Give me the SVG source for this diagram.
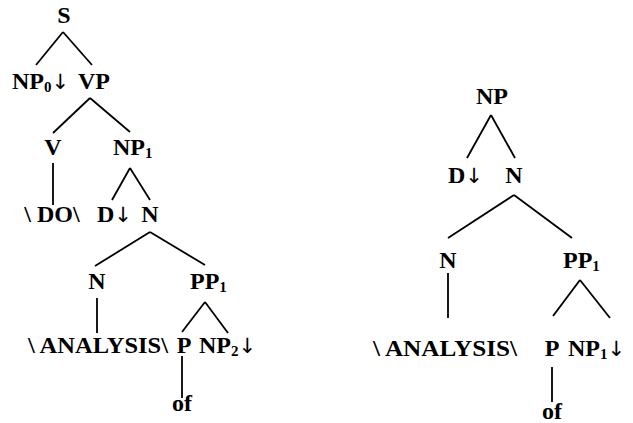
<svg xmlns="http://www.w3.org/2000/svg" width="633" height="423" viewBox="0 0 633 423">
<style>
text{font-family:"Liberation Serif","Times New Roman",serif;font-weight:bold;font-size:24px;fill:#000;text-anchor:middle}
text.l{text-anchor:start}
.sub{font-size:15px}
.arr{font-family:"DejaVu Sans",sans-serif;font-weight:normal;font-size:21px}
.edges line{stroke:#000;stroke-width:1.8;fill:none}
</style>
<rect width="633" height="423" fill="#fff"/>
<g class="edges" id="connectors">
<line x1="63" y1="32" x2="36" y2="65"/>
<line x1="63" y1="32" x2="92" y2="65"/>
<line x1="90" y1="98" x2="53" y2="133"/>
<line x1="90" y1="98" x2="130" y2="132"/>
<line x1="53" y1="163" x2="53" y2="205"/>
<line x1="130" y1="168" x2="112" y2="200"/>
<line x1="130" y1="168" x2="150" y2="200"/>
<line x1="150" y1="232" x2="95" y2="266"/>
<line x1="150" y1="232" x2="205" y2="265"/>
<line x1="97" y1="298" x2="97" y2="333"/>
<line x1="205" y1="302" x2="182" y2="332"/>
<line x1="205" y1="302" x2="228" y2="333"/>
<line x1="182" y1="356" x2="182" y2="398"/>
<line x1="491" y1="115" x2="467" y2="158"/>
<line x1="491" y1="115" x2="515" y2="158"/>
<line x1="514" y1="195" x2="448" y2="238"/>
<line x1="514" y1="195" x2="572" y2="238"/>
<line x1="448" y1="273" x2="448" y2="318"/>
<line x1="580" y1="280" x2="553" y2="316"/>
<line x1="580" y1="280" x2="610" y2="318"/>
<line x1="552" y1="367" x2="552" y2="402"/>
</g>
<g id="n-S"><text x="64" y="23">S</text></g>
<g id="n-NP0"><text class="l" x="12" y="89">NP<tspan class="sub" dy="3">0</tspan><tspan class="arr" dy="-3">↓</tspan></text></g>
<g id="n-VP"><text x="94" y="89">VP</text></g>
<g id="n-V"><text x="53" y="155">V</text></g>
<g id="n-NP1"><text class="l" x="113" y="155">NP<tspan class="sub" dy="3">1</tspan></text></g>
<g id="n-DO"><text x="52" y="222">\ DO\</text></g>
<g id="n-D1"><text class="l" x="97" y="222">D<tspan class="arr">↓</tspan></text></g>
<g id="n-N1"><text x="150" y="222">N</text></g>
<g id="n-N2"><text x="97" y="289">N</text></g>
<g id="n-PP1"><text class="l" x="190" y="289">PP<tspan class="sub" dy="3">1</tspan></text></g>
<g id="n-AN1"><text x="98" y="353" textLength="140" lengthAdjust="spacingAndGlyphs">\ ANALYSIS\</text></g>
<g id="n-P1"><text x="184" y="353">P</text></g>
<g id="n-NP2"><text class="l" x="199" y="353">NP<tspan class="sub" dy="3">2</tspan><tspan class="arr" dy="-3">↓</tspan></text></g>
<g id="n-of1"><text x="182" y="411">of</text></g>
<g id="n-NPr"><text x="492" y="104">NP</text></g>
<g id="n-D2"><text class="l" x="448" y="183">D<tspan class="arr">↓</tspan></text></g>
<g id="n-N3"><text x="514" y="183">N</text></g>
<g id="n-N4"><text x="448" y="268">N</text></g>
<g id="n-PP2"><text class="l" x="563" y="268">PP<tspan class="sub" dy="3">1</tspan></text></g>
<g id="n-AN2"><text x="445" y="356" textLength="144" lengthAdjust="spacingAndGlyphs">\ ANALYSIS\</text></g>
<g id="n-P2"><text x="552" y="356">P</text></g>
<g id="n-NP3"><text class="l" x="568" y="356">NP<tspan class="sub" dy="3">1</tspan><tspan class="arr" dy="-3">↓</tspan></text></g>
<g id="n-of2"><text x="552" y="419">of</text></g>
</svg>
